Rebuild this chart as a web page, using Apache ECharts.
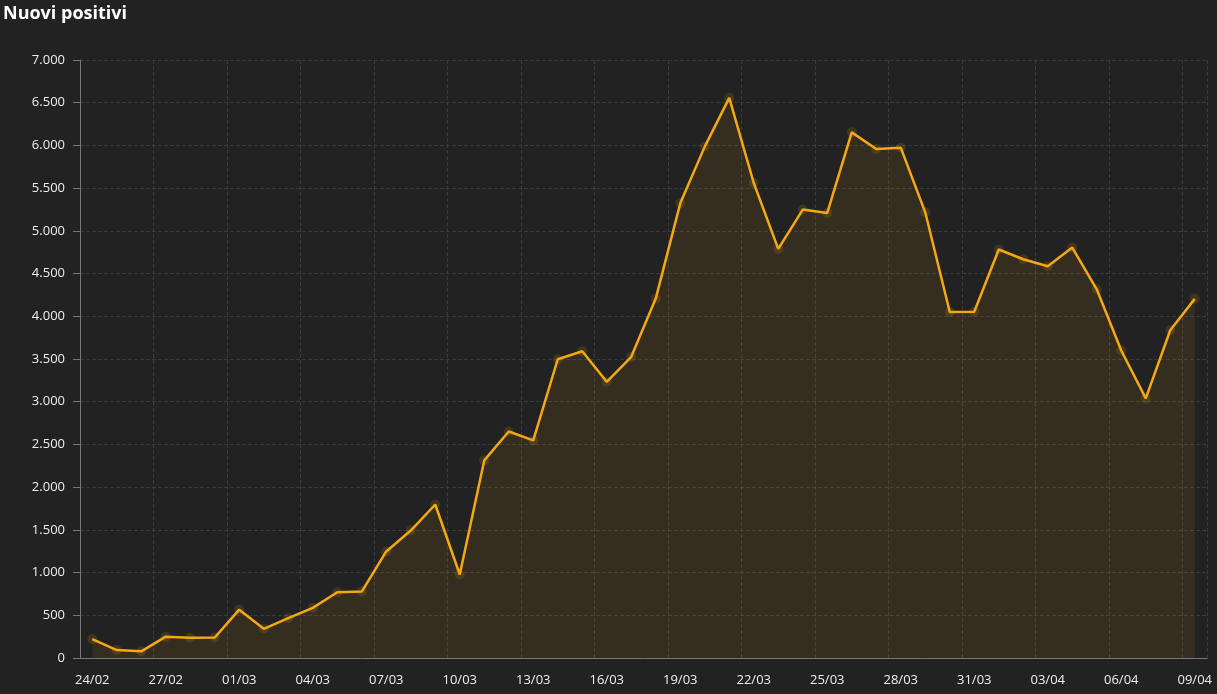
<!DOCTYPE html>
<html lang="it">
<head>
    <meta charset="UTF-8">
    <title>Nuovi positivi</title>
    <script src="https://cdn.jsdelivr.net/npm/echarts@6/dist/echarts.min.js"></script>
    <style>
        html, body { margin: 0; padding: 0; background: #222222; }
        #chart { width: 1217px; height: 694px; }
    </style>
</head>
<body>
    <div id="chart"></div>
    <script>
        // giorni (24/02 - 09/04)
        const giorni = [
            '24/02', '25/02', '26/02', '27/02', '28/02', '29/02',
            '01/03', '02/03', '03/03', '04/03', '05/03', '06/03', '07/03', '08/03', '09/03', '10/03',
            '11/03', '12/03', '13/03', '14/03', '15/03', '16/03', '17/03', '18/03', '19/03', '20/03',
            '21/03', '22/03', '23/03', '24/03', '25/03', '26/03', '27/03', '28/03', '29/03', '30/03',
            '31/03', '01/04', '02/04', '03/04', '04/04', '05/04', '06/04', '07/04', '08/04', '09/04'
        ];
        // nuovi positivi giornalieri
        const nuoviPositivi = [
            221, 93, 78, 250, 238, 240,
            566, 342, 466, 587, 769, 778, 1247, 1492, 1797, 977,
            2313, 2651, 2547, 3497, 3590, 3233, 3526, 4207, 5322, 5986,
            6557, 5560, 4789, 5249, 5210, 6153, 5959, 5974, 5217, 4050,
            4053, 4782, 4668, 4585, 4805, 4316, 3599, 3039, 3836, 4204
        ];

        const chart = echarts.init(document.getElementById('chart'));
        const fmt = v => String(v).replace(/\B(?=(\d{3})+(?!\d))/g, '.');

        const option = {
            backgroundColor: '#222222',
            title: {
                text: 'Nuovi positivi',
                left: 0,
                top: 2,
                padding: [3, 3],
                textStyle: { color: '#ffffff', fontSize: 18, fontWeight: 'bold', fontFamily: 'Open Sans' }
            },
            grid: { left: 80, right: 10, top: 60, bottom: 36 },
            xAxis: {
                type: 'category',
                data: giorni,
                boundaryGap: true,
                axisLine: { lineStyle: { color: '#777777' } },
                axisTick: { alignWithLabel: true, interval: 2, lineStyle: { color: '#777777' } },
                axisLabel: { interval: 2, color: '#eeeeee', fontSize: 13, fontFamily: 'Open Sans', margin: 16 },
                splitLine: { show: true, interval: 2, lineStyle: { color: '#3a3a3a', type: 'dashed' } }
            },
            yAxis: {
                type: 'value',
                min: 0,
                max: 7000,
                interval: 500,
                axisLine: { show: true, lineStyle: { color: '#777777' } },
                axisTick: { show: true, length: 7, lineStyle: { color: '#777777' } },
                axisLabel: { color: '#eeeeee', fontSize: 13, fontFamily: 'Open Sans', formatter: fmt, margin: 15 },
                splitLine: { lineStyle: { color: '#3a3a3a', type: 'dashed' } }
            },
            series: [{
                type: 'line',
                data: nuoviPositivi,
                symbol: 'circle',
                symbolSize: 10,
                showAllSymbol: true,
                itemStyle: { color: '#f4a912', opacity: 0.15 },
                lineStyle: { color: '#f4a912', width: 2.5 },
                areaStyle: { color: 'rgba(244, 169, 18, 0.13)' },
                animation: false
            }]
        };
        chart.setOption(option);
    </script>
</body>
</html>
